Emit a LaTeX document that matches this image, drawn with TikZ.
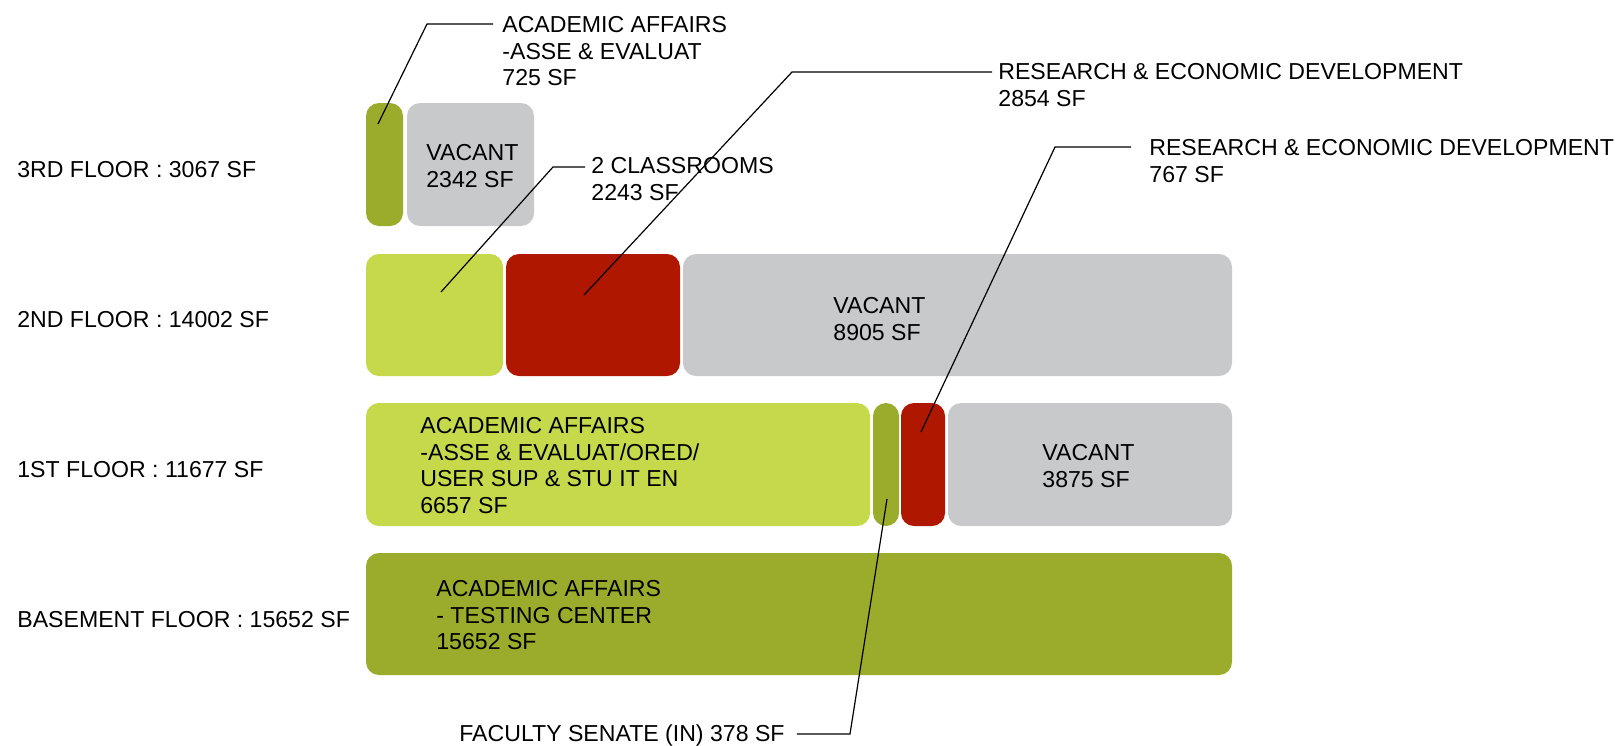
\documentclass[tikz,border=0pt]{standalone}
\usepackage{fontspec}
\setmainfont{Liberation Sans}
\definecolor{olivebar}{HTML}{9BAC2D}
\definecolor{limebar}{HTML}{C6D94A}
\definecolor{redbar}{HTML}{B01700}
\definecolor{graybar}{HTML}{C8C9CB}

\begin{document}
\begin{tikzpicture}[x=0.5pt, y=-0.5pt, bar/.style = {rounded corners=6.5pt}, lbl/.style = {anchor=north west, inner sep=0pt, align=left, font=\fontsize{11.55}{13.35}\selectfont}, lead/.style = {line width=0.6pt}]
\useasboundingbox (0,0) rectangle (1617,745);
% 3rd floor
\fill[olivebar, bar] (366,103) rectangle (403,226);
\fill[graybar, bar] (407,103) rectangle (534,226);
% 2nd floor
\fill[limebar, bar] (366,254) rectangle (503,376);
\fill[redbar, bar] (506,254) rectangle (680,376);
\fill[graybar, bar] (683,254) rectangle (1232,376);
% 1st floor
\fill[limebar, bar] (366,403) rectangle (870,526);
\fill[olivebar, bar] (873,403) rectangle (899,526);
\fill[redbar, bar] (901,403) rectangle (945,526);
\fill[graybar, bar] (948,403) rectangle (1232,526);
% basement
\fill[olivebar, bar] (366,553) rectangle (1232,675);

\node[lbl] (f3) at (17,161) {3RD FLOOR : 3067 SF};
\node[lbl] (f2) at (17,311) {2ND FLOOR : 14002 SF};
\node[lbl] (f1) at (17,461) {1ST FLOOR : 11677 SF};
\node[lbl] (fb) at (17,611) {BASEMENT FLOOR : 15652 SF};

\node[lbl] (vac3) at (426,144) {VACANT\\2342 SF};
\node[lbl] (vac2) at (833,297) {VACANT\\8905 SF};
\node[lbl] (vac1) at (1042,444) {VACANT\\3875 SF};
\node[lbl] (aa1) at (420,417) {ACADEMIC AFFAIRS\\-ASSE \& EVALUAT/ORED/\\USER SUP \& STU IT EN\\6657 SF};
\node[lbl] (aab) at (436,580) {ACADEMIC AFFAIRS\\- TESTING CENTER\\15652 SF};

\node[lbl] (aa3) at (502,16) {ACADEMIC AFFAIRS\\-ASSE \& EVALUAT\\725 SF};
\node[lbl] (cls) at (591,157) {2 CLASSROOMS\\2243 SF};
\node[lbl] (red2) at (998,63) {RESEARCH \& ECONOMIC DEVELOPMENT\\2854 SF};
\node[lbl] (red1) at (1149,139) {RESEARCH \& ECONOMIC DEVELOPMENT\\767 SF};
\node[lbl] (fs) at (459,724) {FACULTY SENATE (IN) 378 SF};

% leaders
\coordinate (p-aa3) at (378,124);  \coordinate (k-aa3) at (427,24);
\coordinate (p-cls) at (441,292);  \coordinate (k-cls) at (553,167);
\coordinate (p-red2) at (584,295); \coordinate (k-red2) at (792,72);
\coordinate (p-red1) at (921,432); \coordinate (k-red1) at (1055,147);
\coordinate (p-fs) at (887,499);   \coordinate (k-fs) at (850,734);
\draw[lead] (p-aa3) -- (k-aa3) -- ([xshift=-4.5pt]aa3.west |- k-aa3);
\draw[lead] (p-cls) -- (k-cls) -- ([xshift=-3pt]cls.west |- k-cls);
\draw[lead] (p-red2) -- (k-red2) -- ([xshift=-3pt]red2.west |- k-red2);
\draw[lead] (p-red1) -- (k-red1) -- ([xshift=-9pt]red1.west |- k-red1);
\draw[lead] (p-fs) -- (k-fs) -- ([xshift=6pt]fs.east |- k-fs);
\end{tikzpicture}
\end{document}
